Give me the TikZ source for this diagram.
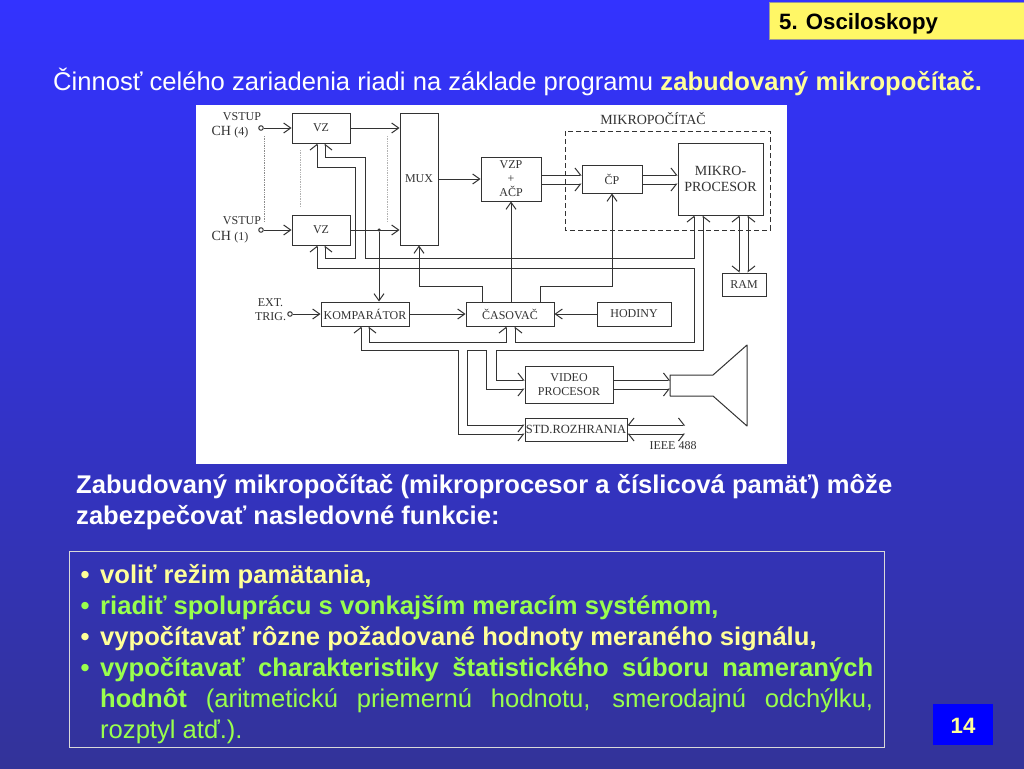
\documentclass[tikz,border=0pt]{standalone}
\usepackage{fontspec}
\setmainfont{Liberation Sans}
\newfontfamily\serifpis{Liberation Serif}
\usetikzlibrary{arrows.meta}
\definecolor{pozadieA}{HTML}{3333FF}
\definecolor{pozadieB}{HTML}{333399}
\definecolor{zlta}{HTML}{FFFF99}
\definecolor{zeleny}{HTML}{99FF4D}
\definecolor{ciara}{gray}{0.2}

\begin{document}
\begin{tikzpicture}[x=1pt,y=-1pt,
    chev/.tip={Straight Barb[length=7pt,width=10pt]},
    half/.tip={Straight Barb[length=5.5pt,width=14pt,harpoon]},
    blok/.style={draw=ciara,line width=1pt,fill=white,inner sep=0pt,text=ciara,align=center,font=\serifpis\fontsize{12}{14}\selectfont},
    popis/.style={text=ciara,inner sep=0pt,align=center,font=\serifpis\fontsize{12}{14}\selectfont},
    wire/.style={draw=ciara,line width=1pt,-{chev}},
    bus/.style={draw=ciara,line width=1pt},
    port/.style={circle,draw=ciara,line width=1pt,fill=white,inner sep=0pt,minimum size=4.5pt},
    uzol/.style={circle,fill=ciara,inner sep=0pt,minimum size=3.5pt},
    bodky/.style={draw=black!45,line width=0.7pt,densely dotted},
    riadok/.style={anchor=base west,inner sep=0pt,font=\bfseries\fontsize{25.6}{31}\selectfont},
    maly/.style={riadok,font=\bfseries\fontsize{22.2}{26}\selectfont}]
    \useasboundingbox (0,0) rectangle (1024,768);

    % background and slide frame
    \shade[top color=pozadieA,bottom color=pozadieB] (0,0) rectangle (1024,768);
    \fill[white] (196,105) rectangle (787,464);

    % title and page number
    \node[draw=black!40,line width=0.5pt,fill=yellow!60!white,minimum width=255pt,minimum height=37pt,inner sep=0pt] (titul) at (896.5,20.5) {};
    \node[maly,text=black] (titultext) at (779,30) {5. Osciloskopy};
    \node[fill=blue,minimum width=60pt,minimum height=41pt,inner sep=0pt] (cislo) at (963,724.5) {};
    \node[maly,anchor=base,text=zlta] (cislotext) at (963,733) {14};

    % first line of text
    \node[riadok,text=white] (uvod) at (53,90) {{\mdseries Činnosť celého zariadenia riadi na základe programu} \textcolor{zlta}{zabudovaný mikropočítač.}};

    % blocks
    \node[blok,minimum width=58pt,minimum height=30pt] (vzA) at (321,128) {VZ};
    \node[blok,minimum width=58pt,minimum height=30pt] (vzB) at (321,230) {VZ};
    \node[blok,minimum width=38pt,minimum height=132pt] (mux) at (419,179) {MUX};
    \node[blok,minimum width=60pt,minimum height=44pt] (vzp) at (511,179) {VZP\\+\\AČP};
    \node[blok,minimum width=60pt,minimum height=28pt] (cp) at (612,179) {ČP};
    \draw[draw=ciara,line width=1pt,dash pattern=on 5pt off 3pt] (565,131) rectangle (770,230);
    \node[blok,minimum width=85pt,minimum height=72pt,font=\serifpis\fontsize{14}{16}\selectfont] (mikro) at (720.5,179) {MIKRO-\\PROCESOR};
    \node[blok,minimum width=44pt,minimum height=23pt] (ram) at (744,284.5) {RAM};
    \node[blok,minimum width=88pt,minimum height=24pt] (komp) at (365,314) {KOMPARÁTOR};
    \node[blok,minimum width=88pt,minimum height=24pt] (casovac) at (510,314) {ČASOVAČ};
    \node[blok,minimum width=74pt,minimum height=24pt] (hodiny) at (634,314) {HODINY};
    \node[blok,minimum width=88pt,minimum height=37pt] (video) at (569,384.5) {VIDEO\\PROCESOR};
    \node[blok,minimum width=102pt,minimum height=23pt,font=\serifpis\fontsize{12.5}{14}\selectfont] (rozhr) at (576,429.5) {STD.ROZHRANIA};

    % screen tube
    \draw[draw=ciara,line width=1pt,line join=round] (670,375) -- (713,375) -- (747,345) -- (747,426) -- (713,396) -- (670,396) -- cycle;
    \coordinate (crt) at (670,384.5);
    \coordinate (ieee) at (685,429.5);

    % labels
    \node[popis] (mikrotext) at (653,119) {\fontsize{14}{16}\selectfont MIKROPOČÍTAČ};
    \node[popis] (vstupA) at (242,117) {VSTUP};
    \node[popis] (chA) at (230,132) {\fontsize{14}{16}\selectfont CH \fontsize{12}{14}\selectfont(4)};
    \node[popis] (vstupB) at (242,221) {VSTUP};
    \node[popis] (chB) at (230,237) {\fontsize{14}{16}\selectfont CH \fontsize{12}{14}\selectfont(1)};
    \node[popis] (trig) at (270.5,310) {EXT.\\TRIG.};
    \node[popis] (ieeetext) at (673,446) {IEEE 488};

    % inputs
    \node[port] (inA) at (261,128) {};
    \node[port] (inB) at (261,230) {};
    \node[port] (inT) at (290,314) {};
    \draw[wire] (inA) -- (vzA.west);
    \draw[wire] (inB) -- (vzB.west);
    \draw[wire] (inT) -- (komp.west);

    % dotted lines between the channels
    \draw[bodky] (264,136) -- (264,222);
    \draw[bodky,draw=black!30,line width=1pt] (300,150) -- (300,207);
    \draw[bodky,draw=black!30,line width=1pt] (387,136) -- (387,222);

    % single wires
    \draw[wire] (vzA.east) -- (vzA.east -| mux.west);
    \draw[wire] (vzB.east) -- (vzB.east -| mux.west);
    \draw[wire] (mux.east) -- (vzp.west);
    \node[uzol] (odbocka) at (379,230) {};
    \draw[wire] (odbocka) -- (odbocka |- komp.north);
    \draw[wire] (komp.east) -- (casovac.west);
    \draw[wire] (hodiny.west) -- (casovac.east);
    \draw[wire] ([xshift=-28pt]casovac.north) -- ++(0,-15) -| (mux.south);
    \draw[wire] (vzp.south |- casovac.north) -- (vzp.south);
    \draw[wire] ([xshift=30pt]casovac.north) -- ++(0,-15) -| (cp.south);

    % parallel data paths
    \draw[bus,-{half}] ([yshift=4pt]vzp.east) -- ([yshift=4pt]cp.west);
    \draw[bus,-{half[swap]}] ([yshift=-5pt]vzp.east) -- ([yshift=-5pt]cp.west);
    \draw[bus,-{half}] ([yshift=4pt]cp.east) -- ([yshift=4pt]mikro.west);
    \draw[bus,-{half[swap]}] ([yshift=-5pt]cp.east) -- ([yshift=-5pt]mikro.west);
    \draw[bus,{half}-{half[swap]}] ([xshift=-5pt]ram.north |- mikro.south) -- ([xshift=-5pt]ram.north);
    \draw[bus,{half[swap]}-{half}] ([xshift=4pt]ram.north |- mikro.south) -- ([xshift=4pt]ram.north);
    \draw[bus,-{half}] ([yshift=4.5pt]video.east) -- ([yshift=4.5pt]crt);
    \draw[bus,-{half[swap]}] ([yshift=-4.5pt]video.east) -- ([yshift=-4.5pt]crt);
    \draw[bus,{half[swap]}-{half}] ([yshift=4.5pt]rozhr.east) -- ([yshift=4.5pt]ieee);
    \draw[bus,{half}-{half[swap]}] ([yshift=-4.5pt]rozhr.east) -- ([yshift=-4.5pt]ieee);

    % system bus
    \draw[bus,{half}-{half[swap]}] ([xshift=-26.5pt]mikro.south) -- (694,258) -- (365,258) -- (365,157) -- (325,157) -- ([xshift=4pt]vzA.south);
    \draw[bus,{half}-{half[swap]}] ([xshift=-4pt]vzB.south) -- (317,268) -- (694,268) -- (694,342) -- (515,342) -- ([xshift=5pt]casovac.south);
    \draw[bus,{half[swap]}-{half}] ([xshift=4pt]vzB.south) -- (325,258) -- (355,258) -- (355,167) -- (317,167) -- ([xshift=-4pt]vzA.south);
    \draw[bus,{half[swap]}-{half}] ([xshift=-17.5pt]mikro.south) -- (703,350) -- (496,350) -- (496,380) -- ([yshift=4.5pt]video.west);
    \draw[bus,{half}-{half[swap]}] ([xshift=-4pt]casovac.south) -- (506,342) -- (369,342) -- ([xshift=4pt]komp.south);
    \draw[bus,{half}-{half[swap]}] ([xshift=-4pt]komp.south) -- (361,350) -- (458,350) -- (458,434) -- ([yshift=-4.5pt]rozhr.west);
    \draw[bus,{half[swap]}-{half[swap]}] ([yshift=4.5pt]rozhr.west) -- (467,425) -- (467,350) -- (486,350) -- (486,389) -- ([yshift=-4.5pt]video.west);

    % middle text
    \node[riadok,text=white] (stredA) at (76,493) {Zabudovaný mikropočítač (mikroprocesor a číslicová pamäť) môže};
    \node[riadok,text=white] (stredB) at (76,524) {zabezpečovať nasledovné funkcie:};

    % list in a frame
    \draw[draw=white!85!black,line width=0.8pt] (69.5,551) rectangle (884,747);
    \node[riadok,anchor=base,text=zlta] (bodA) at (85,583) {•};
    \node[riadok,text=zlta] (textA) at (100,583) {voliť režim pamätania,};
    \node[riadok,anchor=base,text=zeleny] (bodB) at (85,614) {•};
    \node[riadok,text=zeleny] (textB) at (100,614) {riadiť spoluprácu s vonkajším meracím systémom,};
    \node[riadok,anchor=base,text=zlta] (bodC) at (85,645) {•};
    \node[riadok,text=zlta] (textC) at (100,645) {vypočítavať rôzne požadované hodnoty meraného signálu,};
    \node[riadok,anchor=base,text=zeleny] (bodD) at (85,676) {•};
    \node[riadok,text=zeleny] (textD) at (100,676) {\makebox[773pt][s]{vypočítavať charakteristiky štatistického súboru nameraných}};
    \node[riadok,text=zeleny] (textE) at (100,707) {\makebox[773pt][s]{hodnôt {\mdseries (aritmetickú priemernú hodnotu, smerodajnú odchýlku,}}};
    \node[riadok,text=zeleny] (textF) at (100,738) {\mdseries rozptyl atď.).};
\end{tikzpicture}
\end{document}
